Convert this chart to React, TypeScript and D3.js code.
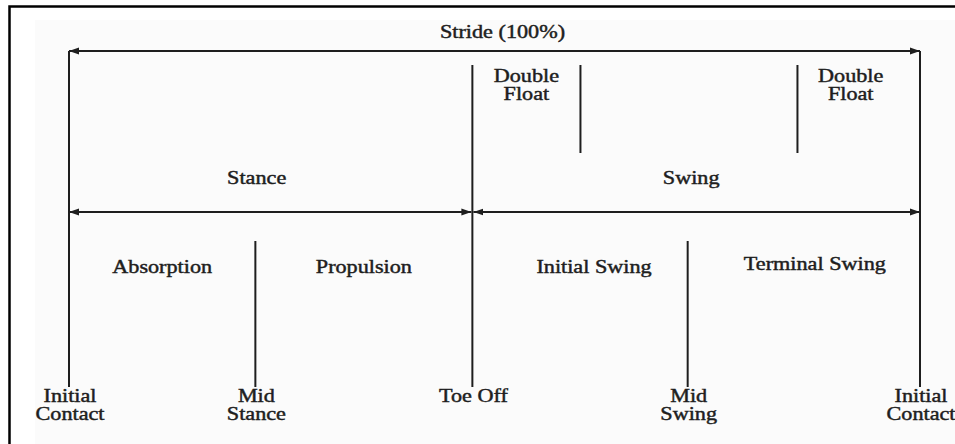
import * as d3 from 'd3';

// gait events, as % of stride
const eventNames = ['Initial\nContact', 'Mid\nStance', 'Toe Off', 'Mid\nSwing', 'Initial\nContact'];
const eventPct = [0, 21.9, 47.4, 72.7, 100];

const strideLabel = 'Stride (100%)';
const phaseNames = ['Stance', 'Swing'];
const subPhaseNames = ['Absorption', 'Propulsion', 'Initial Swing', 'Terminal Swing'];
const doubleFloatPct = [60.1, 85.6];
const doubleFloatLabel = 'Double\nFloat';

const W = 955;
const H = 444;
const ink = '#1e1e1e';
const font = '"Liberation Serif", "Times New Roman", serif';

const x = d3.scaleLinear().domain([0, 100]).range([69, 920]);
// vertical layout rows (px)
const y = d3.scaleLinear().domain([0, 444]).range([0, 444]);

const row = {
  stride: 51,
  topStart: 65,
  floatEnd: 153,
  phaseLabel: 184,
  phase: 212,
  midStart: 241,
  subLabel: 273,
  eventEnd: 387,
  eventLabel: 402,
};

function Label({ cx, cy, text, size = 18.5 }: { cx: number; cy: number; text: string; size?: number }) {
  const lines = text.split('\n');
  return (
    <g transform={`translate(${cx},${cy}) scale(1.2,1)`}>
      {lines.map((l, i) => (
        <text
          key={i}
          y={i * 18}
          textAnchor="middle"
          fontFamily={font}
          fontSize={size}
          fill={ink}
          stroke={ink}
          strokeWidth={0.45}
        >
          {l}
        </text>
      ))}
    </g>
  );
}

export default function App() {
  const phaseBounds = [
    [eventPct[0], eventPct[2]],
    [eventPct[2], eventPct[4]],
  ];
  const subNudge = [0, 0, 14, 11];
  const phaseNudge = [-14, -5];

  return (
    <div style={{ position: 'fixed', left: 0, top: 0 }}>
      <svg width={W} height={H} style={{ display: 'block', background: '#fff' }}>
        <defs>
          <marker
            id="arr"
            markerUnits="userSpaceOnUse"
            markerWidth={11}
            markerHeight={8}
            refX={10}
            refY={4}
            orient="auto-start-reverse"
          >
            <path d="M0,0.5 L10,4 L0,7.5 z" fill={ink} />
          </marker>
        </defs>

        <rect x={35} y={20} width={W} height={H} fill="#fbfbfb" />
        <rect x={9.5} y={6.5} width={W + 20} height={H + 20} fill="none" stroke="#000" strokeWidth={2.5} />

        {/* stride arrow */}
        <line
          x1={x(0)}
          x2={x(100)}
          y1={y(row.stride)}
          y2={y(row.stride)}
          stroke={ink}
          strokeWidth={2}
          markerStart="url(#arr)"
          markerEnd="url(#arr)"
        />
        <Label cx={(x(0) + x(100)) / 2 + 8} cy={y(38)} text={strideLabel} />

        {/* phase arrows */}
        {phaseBounds.map(([a, b], i) => (
          <g key={i}>
            <line
              x1={x(a) + (i === 1 ? 1 : 0)}
              x2={x(b) - (i === 0 ? 1 : 0)}
              y1={y(row.phase)}
              y2={y(row.phase)}
              stroke={ink}
              strokeWidth={2}
              markerStart="url(#arr)"
              markerEnd="url(#arr)"
            />
            <Label cx={(x(a) + x(b)) / 2 + phaseNudge[i]} cy={y(row.phaseLabel)} text={phaseNames[i]} />
          </g>
        ))}

        {/* event lines */}
        {eventPct.map((p, i) => {
          const top = i === 0 || i === 4 ? row.stride : i === 2 ? row.topStart : row.midStart;
          return (
            <g key={i}>
              <line
                x1={x(p)}
                x2={x(p)}
                y1={y(top)}
                y2={y(row.eventEnd)}
                stroke={ink}
                strokeWidth={2}
              />
              <Label cx={x(p) + 1} cy={y(row.eventLabel)} text={eventNames[i]} />
            </g>
          );
        })}

        {/* sub-phase labels */}
        {subPhaseNames.map((n, i) => (
          <Label
            key={n}
            cx={(x(eventPct[i]) + x(eventPct[i + 1])) / 2 + subNudge[i]}
            cy={y(row.subLabel - (i === 3 ? 3 : 0))}
            text={n}
          />
        ))}

        {/* double float markers */}
        {doubleFloatPct.map((p, i) => {
          const left = i === 0 ? eventPct[2] : p;
          const right = i === 0 ? p : 100;
          return (
            <g key={i}>
              <line
                x1={x(p)}
                x2={x(p)}
                y1={y(row.topStart)}
                y2={y(row.floatEnd)}
                stroke={ink}
                strokeWidth={2}
              />
              <Label cx={(x(left) + x(right)) / 2 - (i === 1 ? 8 : 0)} cy={y(82)} text={doubleFloatLabel} />
            </g>
          );
        })}
      </svg>
    </div>
  );
}
